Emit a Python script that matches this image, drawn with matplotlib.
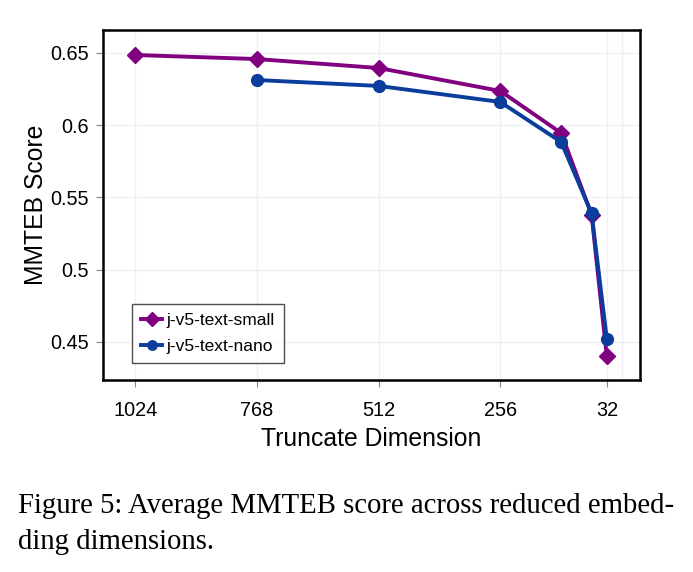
import matplotlib
matplotlib.use("Agg")
import matplotlib.pyplot as plt

dims_small = [1024, 768, 512, 256, 128, 64, 32]
score_small = [0.6486, 0.6458, 0.6396, 0.6237, 0.5946, 0.538, 0.440]
dims_nano = [768, 512, 256, 128, 64, 32]
score_nano = [0.6313, 0.6272, 0.6161, 0.5884, 0.539, 0.452]
xticks = [1024, 768, 512, 256, 32]
yticks = [0.45, 0.5, 0.55, 0.6, 0.65]
ytick_labels = ["0.45", "0.5", "0.55", "0.6", "0.65"]

plt.rcParams['font.family'] = ['Liberation Sans', 'DejaVu Sans']

fig = plt.figure(figsize=(6.93, 5.72), dpi=100)
ax = fig.add_axes([103/693, 1-380/572, (640-103)/693, (380-30)/572])

ax.plot(dims_small, score_small, color='#800080', lw=2.8, marker='D', ms=8.5,
        label='j-v5-text-small', zorder=3)
ax.plot(dims_nano, score_nano, color='#0a3d9c', lw=2.8, marker='o', ms=8.5,
        label='j-v5-text-nano', zorder=4)

ax.set_xlim(1091.7, -37.8)
ax.set_ylim(0.4237, 0.6659)
ax.set_xticks(xticks + [0])
ax.set_xticklabels([str(v) for v in xticks] + [""])
ax.set_yticks(yticks)
ax.set_yticklabels(ytick_labels)
ax.grid(True, color='#eef0f5', lw=1.0, zorder=0)
for s in ax.spines.values():
    s.set_linewidth(1.8)
ax.tick_params(axis='both', direction='out', length=5, width=0.8, color='#888888',
               labelsize=14.3, pad=5)
ax.tick_params(axis='x', pad=10)
xt = ax.xaxis.get_major_ticks()
xt[-1].tick1line.set_visible(False)
ax.set_xlabel('Truncate Dimension', fontsize=17.8, labelpad=5)
ax.set_ylabel('MMTEB Score', fontsize=17.8, labelpad=1.5)

leg = ax.legend(loc='lower left', bbox_to_anchor=(0.054, 0.05), fontsize=12.5,
                frameon=True, fancybox=False, edgecolor='#222222',
                handlelength=1.25, handletextpad=0.25, borderpad=0.5,
                labelspacing=0.6, markerscale=0.8, borderaxespad=0)
leg.get_frame().set_linewidth(1.0)

fig.text(18/693, 1-513/572, 'Figure 5: Average MMTEB score across reduced embed-',
         fontsize=20.7, family=['Liberation Serif', 'DejaVu Serif'], va='baseline')
fig.text(18/693, 1-549/572, 'ding dimensions.',
         fontsize=20.7, family=['Liberation Serif', 'DejaVu Serif'], va='baseline')

fig.savefig('out.png', dpi=100)
